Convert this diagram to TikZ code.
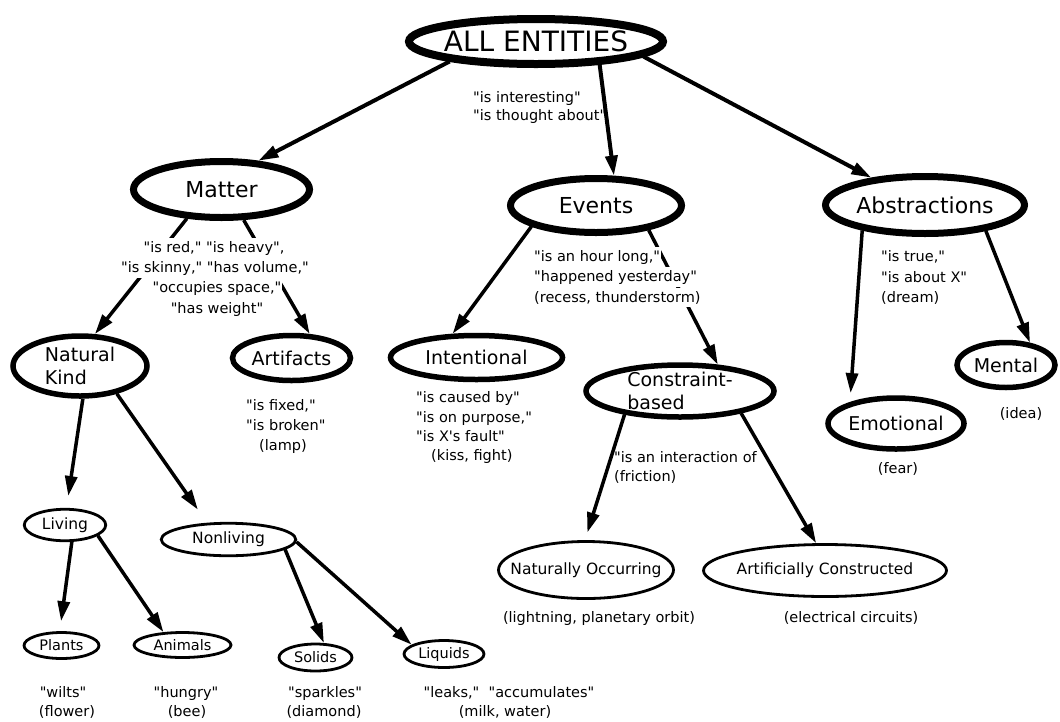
\documentclass[tikz,border=0pt]{standalone}
\usepackage{fontspec}
\setmainfont{DejaVu Sans}[Ligatures=TeXOff]
\usetikzlibrary{shapes.geometric,arrows.meta}
\begin{document}
\begin{tikzpicture}[x=1pt,y=-1pt,
  oval/.style={ellipse,draw,inner xsep=-20pt,inner ysep=-6pt},
  topoval/.style={oval,line width=8pt,font=\fontsize{28}{32}\selectfont},
  mainoval/.style={oval,line width=7pt,font=\fontsize{22}{26}\selectfont},
  suboval/.style={oval,line width=5.5pt,font=\fontsize{19}{23}\selectfont},
  leafoval/.style={oval,line width=2.8pt,font=\fontsize{15.5}{18}\selectfont},
  smalloval/.style={leafoval,font=\fontsize{14.5}{17}\selectfont},
  note/.style={font=\fontsize{14.5}{19.5}\selectfont,inner sep=1pt},
  mask/.style={note,fill=white,inner ysep=3pt},
  link/.style={line width=3.5pt,-{Triangle[length=20pt,width=12pt]}},
]
\useasboundingbox (0,0) rectangle (1060,721);

% concept ovals
\node[topoval,minimum width=254pt,minimum height=45pt] (all) at (536,41.5) {ALL ENTITIES};

\node[mainoval,minimum width=176pt,minimum height=56pt] (matter) at (221.5,189.5) {Matter};
\node[mainoval,minimum width=171pt,minimum height=54pt] (events) at (596,205.5) {Events};
\node[mainoval,minimum width=199pt,minimum height=57pt] (abstr) at (925,205) {Abstractions};

\node[suboval,minimum width=134pt,minimum height=60pt,align=left] (natkind) at (80,366) {Natural\\Kind};
\node[suboval,minimum width=118pt,minimum height=45pt] (artif) at (291.5,358) {Artifacts};
\node[suboval,minimum width=172pt,minimum height=44pt] (intent) at (476.5,357.5) {Intentional};
\node[suboval,minimum width=188pt,minimum height=52pt,align=left] (constr) at (680,391) {Constraint-\\based};
\node[suboval,minimum width=136pt,minimum height=51pt] (emot) at (896,423.5) {Emotional};
\node[suboval,minimum width=98pt,minimum height=45pt] (mental) at (1006,365) {Mental};

\node[leafoval,minimum width=175pt,minimum height=57pt] (natocc) at (586,570) {Naturally Occurring};
\node[leafoval,minimum width=243pt,minimum height=52pt] (artcon) at (825,570.5) {Artificially Constructed};
\node[leafoval,minimum width=81.5pt,minimum height=31.5pt] (living) at (65,525) {Living};
\node[leafoval,minimum width=134.5pt,minimum height=32.5pt] (nonliv) at (228.5,539.5) {Nonliving};
\node[smalloval,minimum width=75pt,minimum height=26pt] (plants) at (61.5,645.5) {Plants};
\node[smalloval,minimum width=97pt,minimum height=25pt] (animals) at (182.5,645) {Animals};
\node[smalloval,minimum width=73pt,minimum height=27pt] (solids) at (315.5,657.5) {Solids};
\node[smalloval,minimum width=80pt,minimum height=27pt] (liquids) at (444,654) {Liquids};

% connectors
\draw[link,line width=4pt] (all.193) -- (matter.38);
\draw[link,line width=4pt] (all.340) -- (events.59);
\draw[link,line width=4pt] (all.352) -- (abstr.153);

\draw[link] (matter.220) -- (natkind.65);
\draw[link] (matter.306) -- (artif.53);
\draw[link] (events.198.5) -- (intent.135);
\draw[link] (events.335) -- (constr.35);
\draw[link,shorten >=9pt] (abstr.202) -- (emot.155);
\draw[link] (abstr.337.6) -- (mental.43);

\draw[link,shorten >=12pt] (natkind.275) -- (living.85);
\draw[link,shorten >=16pt] (natkind.323) -- (nonliv.142.5);
\draw[link,shorten >=10pt] (living.292) -- (plants.97);
\draw[link] (living.342) -- (animals.146);
\draw[link] (nonliv.350) -- (solids.60);
\draw[link] (nonliv.358) -- (liquids.164.5);
\draw[link,shorten >=8pt] (constr.203.4) -- (natocc.92);
\draw[link] (constr.340.4) -- (artcon.108.7);

% predicates and examples
\node[note,anchor=base west] (allA) at (472,102) {"is interesting"};
\node[note,anchor=base west] (allB) at (472,120) {"is thought about"};

\node[mask,anchor=base] (matA) at (214,252) {"is red," "is heavy",};
\node[mask,anchor=base] (matB) at (215,272) {"is skinny," "has volume,"};
\node[mask,anchor=base] (matC) at (217,292) {"occupies space,"};
\node[mask,anchor=base] (matD) at (217,313) {"has weight"};

\node[mask,anchor=base west] (evA) at (533,261) {"is an hour long,"};
\node[mask,anchor=base west] (evB) at (533,281) {"happened yesterday"};
\node[mask,anchor=base west] (evC) at (533,302) {(recess, thunderstorm)};

\node[note,anchor=base west] (abA) at (880,261) {"is true,"};
\node[note,anchor=base west] (abB) at (880,282) {"is about X"};
\node[note,anchor=base west] (abC) at (880,302) {(dream)};

\node[note,anchor=base west] (arA) at (245,410) {"is fixed,"};
\node[note,anchor=base west] (arB) at (245,430) {"is broken"};
\node[note,anchor=base west] (arC) at (258,450) {(lamp)};

\node[note,anchor=base west] (inA) at (415,402) {"is caused by"};
\node[note,anchor=base west] (inB) at (415,422) {"is on purpose,"};
\node[note,anchor=base west] (inC) at (415,441) {"is X's fault"};
\node[note,anchor=base west] (inD) at (430,460) {(kiss, fight)};

\node[note,anchor=base west] (coA) at (613,462) {"is an interaction of};
\node[note,anchor=base west] (coB) at (613,481) {(friction)};

\node[note,anchor=base] (noA) at (599,622) {(lightning, planetary orbit)};
\node[note,anchor=base] (acA) at (851,622) {(electrical circuits)};
\node[note,anchor=base] (emA) at (898,473) {(fear)};
\node[note,anchor=base] (meA) at (1021,418) {(idea)};

\node[note,anchor=base] (plA) at (63,697) {"wilts"};
\node[note,anchor=base] (plB) at (67,716) {(flower)};
\node[note,anchor=base] (anA) at (186,697) {"hungry"};
\node[note,anchor=base] (anB) at (187,716) {(bee)};
\node[note,anchor=base] (soA) at (325,697) {"sparkles"};
\node[note,anchor=base] (soB) at (324,716) {(diamond)};
\node[note,anchor=base] (liA) at (509,697) {"leaks,"\ \ "accumulates"};
\node[note,anchor=base] (liB) at (505,716) {(milk, water)};
\end{tikzpicture}
\end{document}
